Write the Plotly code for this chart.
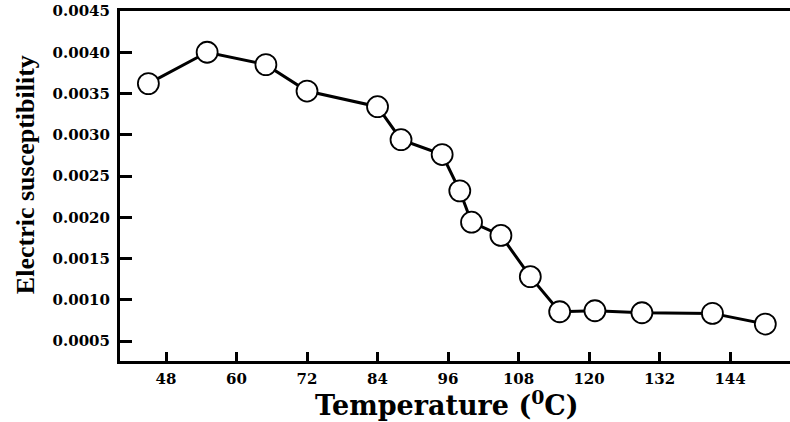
import plotly.graph_objects as go

temperature = [45, 55, 65, 72, 84, 88, 95, 98, 100, 105, 110, 115, 121, 129, 141, 150]
susceptibility = [0.00362, 0.00400, 0.00385, 0.00353, 0.00334, 0.00294, 0.00276, 0.00232,
                  0.00194, 0.00178, 0.00128, 0.000855, 0.000867, 0.000843, 0.000835, 0.000706]
x_ticks = [48, 60, 72, 84, 96, 108, 120, 132, 144]
y_ticks = [0.0005, 0.0010, 0.0015, 0.0020, 0.0025, 0.0030, 0.0035, 0.0040, 0.0045]

fig = go.Figure()
fig.add_trace(go.Scatter(
    x=temperature, y=susceptibility, mode="lines+markers",
    line=dict(color="black", width=3),
    marker=dict(symbol="circle", size=21, color="white", line=dict(color="black", width=1.8)),
    showlegend=False,
))

tickfont = dict(family="DejaVu Serif", size=15, color="black", weight="bold")
fig.update_layout(
    width=790, height=422,
    margin=dict(l=120, r=0, t=11, b=61),
    paper_bgcolor="white", plot_bgcolor="white",
    xaxis=dict(range=[40.17, 154.2], tickvals=x_ticks, ticktext=[str(v) for v in x_ticks],
               ticks="inside", ticklen=9, tickwidth=3, tickcolor="black",
               showline=True, linecolor="black", linewidth=3, mirror=True,
               showgrid=False, zeroline=False, tickfont=tickfont, ticklabelstandoff=2),
    yaxis=dict(range=[0.000258, 0.0045], tickvals=y_ticks, tickformat=".4f",
               ticks="inside", ticklen=12, tickwidth=3, tickcolor="black",
               showline=True, linecolor="black", linewidth=3, mirror=False,
               showgrid=False, zeroline=False, tickfont=tickfont, ticklabelstandoff=4),
    annotations=[
        dict(text="Electric susceptibility", textangle=-90, xref="paper", yref="paper",
             x=0, y=0.531, xshift=-95, xanchor="center", yanchor="middle", showarrow=False,
             font=dict(family="Liberation Serif", size=26, color="black", weight="bold")),
        dict(text="Temperature (<sup>0</sup>C)", xref="paper", yref="paper",
             x=0.488, y=0, yshift=-42, xanchor="center", yanchor="middle", showarrow=False,
             font=dict(family="DejaVu Serif", size=27, color="black", weight="bold")),
    ],
)
fig.write_html("out.html")
